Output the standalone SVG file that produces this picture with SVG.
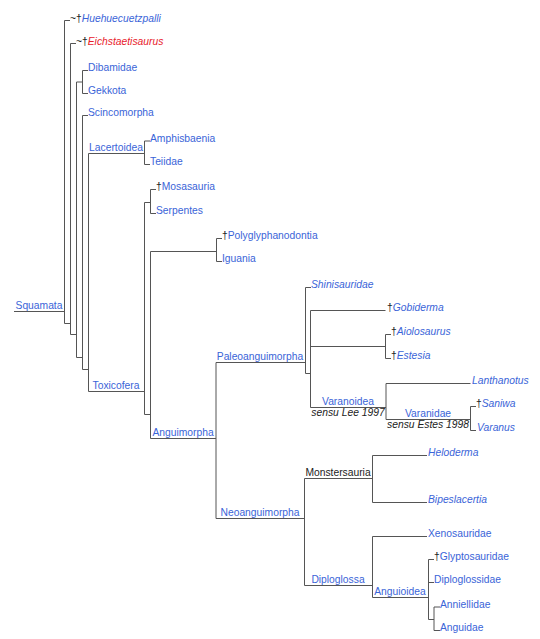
<svg xmlns="http://www.w3.org/2000/svg" width="540" height="639" viewBox="0 0 540 639">
<style>
text{font-family:"Liberation Sans",Arial,sans-serif;font-size:10.3px;fill:#3a64d8}
.i{font-style:italic}
.r{fill:#e8212b}
.k{fill:#222}
.m{text-anchor:middle}
.s{font-style:italic;fill:#222;text-anchor:middle}
#connectors path{fill:none;stroke:#555;stroke-width:1}
</style>
<rect width="540" height="639" fill="#fff"/>
<g id="connectors">
<path d="M14,311.5H64.5M64.5,20.5V323.5M64.5,20.5H70M64.5,323.5H70.5"/>
<path d="M70.5,43.5V334.5M70.5,43.5H76M70.5,334.5H76.5"/>
<path d="M76.5,82V357.5M76.5,82H82.5M76.5,357.5H82.5"/>
<path d="M82.5,70.5V93.5M82.5,70.5H88M82.5,93.5H88"/>
<path d="M82.5,115.5V369.5M82.5,115.5H88M82.5,369.5H88.5"/>
<path d="M88.5,153.5V391.5M88.5,153.5H144.5M88.5,391.5H144.5"/>
<path d="M144.5,141V164.5M144.5,141H150M144.5,164.5H150"/>
<path d="M144.5,202.5V414.5M144.5,202.5H150.5M144.5,414.5H150.5"/>
<path d="M150.5,189.5V213.5M150.5,189.5H156M150.5,213.5H156"/>
<path d="M150.5,251.5V438.5M150.5,251.5H216.5M150.5,438.5H216"/>
<path d="M216.5,238.5V261.5M216.5,238.5H222M216.5,261.5H222"/>
<path d="M216,362.5V518.5M216,362.5H305.5M216,518.5H304.5"/>
<path d="M305.5,287.5V373.5M305.5,287.5H311M305.5,373.5H310.5"/>
<path d="M310.5,310.5V407.5M310.5,310.5H385.5M310.5,346.5H385.5M310.5,407.5H386"/>
<path d="M385.5,334.5V358.5M385.5,334.5H391M385.5,358.5H391"/>
<path d="M386,383.5V419.5M386,383.5H470.5M386,419.5H470.5"/>
<path d="M470.5,406.5V430.5M470.5,406.5H476M470.5,430.5H476"/>
<path d="M304.5,478.5V585.5M304.5,478.5H372.5M304.5,585.5H372.5"/>
<path d="M372.5,455.5V502.5M372.5,455.5H427M372.5,502.5H427"/>
<path d="M372.5,536.5V597.5M372.5,536.5H427M372.5,597.5H428.5"/>
<path d="M428.5,559.5V619.5M428.5,559.5H434M428.5,582.5H434M428.5,619.5H434"/>
<path d="M434,607V630.5M434,607H440M434,630.5H440"/>
</g>
<g id="Squamata"><text class="m" x="39" y="309">Squamata</text></g>
<g id="Huehuecuetzpalli"><text x="70" y="21.5"><tspan class="k">~†</tspan><tspan class="i">Huehuecuetzpalli</tspan></text></g>
<g id="Eichstaetisaurus"><text x="76" y="44.5"><tspan class="k">~†</tspan><tspan class="i r">Eichstaetisaurus</tspan></text></g>
<g id="Dibamidae"><text x="88" y="71">Dibamidae</text></g>
<g id="Gekkota"><text x="88" y="94">Gekkota</text></g>
<g id="Scincomorpha"><text x="88" y="116">Scincomorpha</text></g>
<g id="Lacertoidea"><text class="m" x="116" y="151">Lacertoidea</text></g>
<g id="Amphisbaenia"><text x="150" y="141.5">Amphisbaenia</text></g>
<g id="Teiidae"><text x="150" y="165">Teiidae</text></g>
<g id="Toxicofera"><text class="m" x="116" y="389">Toxicofera</text></g>
<g id="Mosasauria"><text x="156" y="190"><tspan class="k">†</tspan>Mosasauria</text></g>
<g id="Serpentes"><text x="156" y="214">Serpentes</text></g>
<g id="Polyglyphanodontia"><text x="222" y="239"><tspan class="k">†</tspan>Polyglyphanodontia</text></g>
<g id="Iguania"><text x="222" y="262">Iguania</text></g>
<g id="Anguimorpha"><text class="m" x="183" y="436">Anguimorpha</text></g>
<g id="Paleoanguimorpha"><text class="m" x="260" y="360">Paleoanguimorpha</text></g>
<g id="Shinisauridae"><text class="i" x="311" y="288">Shinisauridae</text></g>
<g id="Gobiderma"><text x="387" y="311"><tspan class="k">†</tspan><tspan class="i">Gobiderma</tspan></text></g>
<g id="Aiolosaurus"><text x="391" y="335"><tspan class="k">†</tspan><tspan class="i">Aiolosaurus</tspan></text></g>
<g id="Estesia"><text x="391" y="359"><tspan class="k">†</tspan><tspan class="i">Estesia</tspan></text></g>
<g id="Varanoidea"><text class="m" x="348" y="405">Varanoidea</text><text class="s" x="348" y="415.5">sensu Lee 1997</text></g>
<g id="Lanthanotus"><text class="i" x="472" y="384">Lanthanotus</text></g>
<g id="Varanidae"><text class="m" x="428" y="417">Varanidae</text><text class="s" x="428" y="427.5">sensu Estes 1998</text></g>
<g id="Saniwa"><text x="476" y="407"><tspan class="k">†</tspan><tspan class="i">Saniwa</tspan></text></g>
<g id="Varanus"><text class="i" x="477" y="431">Varanus</text></g>
<g id="Neoanguimorpha"><text class="m" x="260" y="516">Neoanguimorpha</text></g>
<g id="Monstersauria"><text class="m k" x="338" y="476">Monstersauria</text></g>
<g id="Heloderma"><text class="i" x="428" y="456">Heloderma</text></g>
<g id="Bipeslacertia"><text class="i" x="428" y="503">Bipeslacertia</text></g>
<g id="Diploglossa"><text class="m" x="338" y="583">Diploglossa</text></g>
<g id="Xenosauridae"><text x="428" y="537">Xenosauridae</text></g>
<g id="Anguioidea"><text class="m" x="400" y="595">Anguioidea</text></g>
<g id="Glyptosauridae"><text x="434" y="560"><tspan class="k">†</tspan>Glyptosauridae</text></g>
<g id="Diploglossidae"><text x="434" y="583">Diploglossidae</text></g>
<g id="Anniellidae"><text x="440" y="607.5">Anniellidae</text></g>
<g id="Anguidae"><text x="440" y="631">Anguidae</text></g>
</svg>
